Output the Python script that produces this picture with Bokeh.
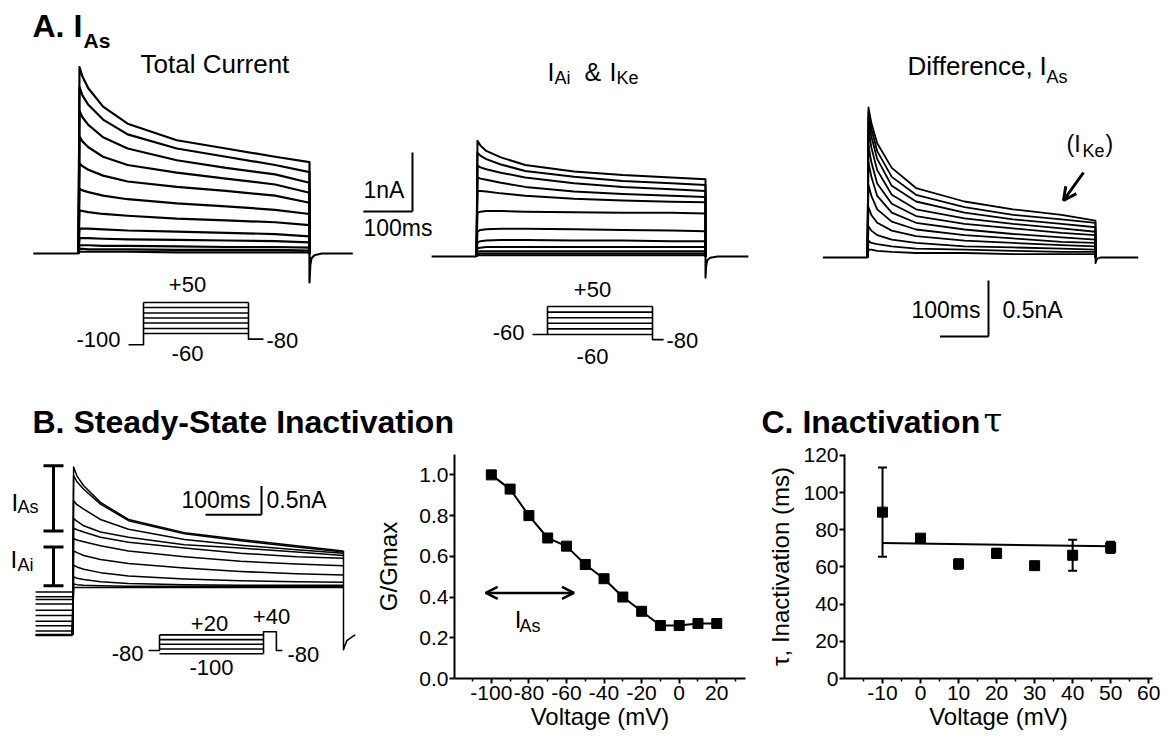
from bokeh.plotting import figure
from bokeh.models import (Range1d, Arrow, OpenHead, TeeHead, Whisker, ColumnDataSource,
                          FixedTicker, CustomJSTickFormatter)
from bokeh.layouts import column, row
from bokeh.embed import file_html
from bokeh.resources import INLINE
from bokeh.core.properties import value

SANS = "Liberation Sans"
SERIF = "DejaVu Serif"

# ---------------- data ----------------
# Panel A: traces (nA) sampled at times (ms) after the step onset
T_A = [2, 8, 20, 50, 100, 200, 300, 400, 470]
PULSE_A = 470
TOTAL = [
    [3.16, 3.00, 2.80, 2.49, 2.20, 1.92, 1.78, 1.64, 1.55],
    [2.82, 2.68, 2.52, 2.27, 2.02, 1.78, 1.64, 1.50, 1.38],
    [2.42, 2.31, 2.18, 1.97, 1.78, 1.58, 1.45, 1.34, 1.20],
    [1.98, 1.90, 1.80, 1.64, 1.50, 1.37, 1.27, 1.17, 1.03],
    [1.53, 1.48, 1.42, 1.32, 1.22, 1.13, 1.06, 0.98, 0.86],
    [1.10, 1.07, 1.04, 0.98, 0.92, 0.85, 0.80, 0.74, 0.67],
    [0.73, 0.72, 0.70, 0.67, 0.64, 0.59, 0.56, 0.53, 0.48],
    [0.42, 0.42, 0.42, 0.41, 0.39, 0.37, 0.35, 0.33, 0.29],
    [0.26, 0.26, 0.26, 0.25, 0.24, 0.23, 0.22, 0.21, 0.19],
    [0.14, 0.14, 0.14, 0.13, 0.13, 0.12, 0.11, 0.11, 0.10],
    [0.08, 0.08, 0.07, 0.07, 0.07, 0.06, 0.06, 0.06, 0.05],
    [0.03, 0.03, 0.03, 0.03, 0.03, 0.02, 0.02, 0.02, 0.02],
]
IAI_IKE = [
    [1.96, 1.88, 1.79, 1.68, 1.55, 1.44, 1.38, 1.34, 1.31],
    [1.76, 1.71, 1.65, 1.56, 1.45, 1.35, 1.28, 1.24, 1.21],
    [1.54, 1.51, 1.48, 1.42, 1.34, 1.24, 1.18, 1.14, 1.11],
    [1.34, 1.32, 1.30, 1.25, 1.18, 1.10, 1.06, 1.03, 1.01],
    [1.11, 1.11, 1.10, 1.07, 1.03, 0.98, 0.95, 0.93, 0.92],
    [0.74, 0.76, 0.77, 0.77, 0.76, 0.75, 0.74, 0.74, 0.73],
    [0.42, 0.45, 0.46, 0.47, 0.47, 0.46, 0.45, 0.44, 0.43],
    [0.24, 0.26, 0.27, 0.28, 0.28, 0.27, 0.27, 0.26, 0.26],
    [0.14, 0.15, 0.16, 0.16, 0.16, 0.16, 0.16, 0.16, 0.16],
    [0.08, 0.09, 0.09, 0.09, 0.09, 0.09, 0.09, 0.09, 0.09],
    [0.04, 0.05, 0.05, 0.05, 0.05, 0.05, 0.05, 0.05, 0.05],
    [0.02, 0.02, 0.02, 0.02, 0.02, 0.02, 0.02, 0.02, 0.02],
]
DIFF = [
    [1.34, 1.20, 1.02, 0.80, 0.62, 0.50, 0.43, 0.38, 0.33],
    [1.30, 1.15, 0.95, 0.72, 0.56, 0.45, 0.38, 0.34, 0.31],
    [1.25, 1.08, 0.88, 0.64, 0.50, 0.40, 0.34, 0.30, 0.27],
    [1.15, 0.98, 0.78, 0.56, 0.43, 0.35, 0.30, 0.26, 0.23],
    [1.00, 0.85, 0.66, 0.48, 0.37, 0.30, 0.26, 0.22, 0.20],
    [0.85, 0.72, 0.55, 0.40, 0.31, 0.25, 0.21, 0.18, 0.16],
    [0.65, 0.55, 0.43, 0.32, 0.25, 0.20, 0.17, 0.14, 0.13],
    [0.45, 0.38, 0.31, 0.24, 0.19, 0.15, 0.13, 0.11, 0.10],
    [0.28, 0.24, 0.20, 0.16, 0.13, 0.10, 0.09, 0.08, 0.07],
    [0.15, 0.13, 0.12, 0.10, 0.08, 0.07, 0.06, 0.05, 0.05],
    [0.07, 0.07, 0.06, 0.05, 0.04, 0.04, 0.03, 0.03, 0.03],
]
PRE_A = -92
POST_A = 558
TAIL_T = [0, 0, 1.5, 4, 10, 25, 88]           # ms after pulse end
TAIL_TOTAL = [0, -0.49, -0.20, -0.08, -0.03, 0, 0]
TAIL_IAI = [0, -0.36, -0.15, -0.06, -0.02, 0, 0]
TAIL_DIFF = [0, -0.05, -0.03, -0.01, 0, 0, 0]

# Voltage protocols (mV), schematic step levels as drawn
STEPS_A1 = [-60, -42, -23, -5, 13, 32, 50]
STEPS_A2 = [-60, -38, -16, 6, 28, 50]
STEPS_B = [-100, -70, -40, -10, 20]

# Panel B traces (nA) at times (ms) after the +40 step
T_B = [2, 8, 20, 50, 100, 200, 300, 400, 484]
PULSE_B = 484
B_TRACES = [
    [2.94, 2.78, 2.61, 2.32, 2.02, 1.79, 1.67, 1.56, 1.47],
    [2.79, 2.68, 2.55, 2.29, 2.00, 1.77, 1.65, 1.54, 1.45],
    [2.35, 2.28, 2.20, 2.02, 1.85, 1.67, 1.57, 1.49, 1.43],
    [2.04, 1.99, 1.91, 1.80, 1.71, 1.58, 1.52, 1.45, 1.39],
    [1.87, 1.84, 1.80, 1.71, 1.62, 1.52, 1.43, 1.37, 1.34],
    [1.69, 1.66, 1.63, 1.56, 1.47, 1.37, 1.29, 1.24, 1.21],
    [1.47, 1.44, 1.39, 1.32, 1.25, 1.17, 1.11, 1.07, 1.05],
    [1.22, 1.19, 1.15, 1.09, 1.03, 0.98, 0.95, 0.93, 0.92],
    [1.02, 0.99, 0.97, 0.93, 0.90, 0.88, 0.87, 0.87, 0.87],
    [0.89, 0.88, 0.87, 0.86, 0.85, 0.85, 0.85, 0.85, 0.85],
    [0.83, 0.83, 0.83, 0.83, 0.83, 0.83, 0.83, 0.83, 0.83],
]
B_PREPULSE = [0.75, 0.67, 0.62, 0.54, 0.43, 0.34, 0.24, 0.16, 0.07, 0.0]
PRE_B = -66
B_TAIL_T = [0, 0, 2, 6, 16, 21]
B_TAIL_I = [1.47, -0.26, -0.20, -0.10, -0.03, 0.0]
IAS_BAR = [1.82, 2.96]
IAI_BAR = [0.86, 1.54]

# Panel B right: steady-state inactivation
G_V = [-100, -90, -80, -70, -60, -50, -40, -30, -20, -10, 0, 10, 20]
G_REL = [1.00, 0.93, 0.80, 0.69, 0.65, 0.56, 0.49, 0.40, 0.33, 0.26, 0.26, 0.27, 0.27]
IAS_SPAN = [-103, -56]
IAS_Y = 0.42

# Panel C: inactivation tau
TAU_V = [-10, 0, 10, 20, 30, 40, 50]
TAU_MS = [89.5, 75.5, 61.6, 67.3, 60.7, 66.3, 70.5]
TAU_ERR = [24.0, 1.5, 2.5, 2.5, 1.5, 8.3, 3.0]
FIT_V = [-10, 50]
FIT_TAU = [72.9, 71.1]

TOP_H = 440          # height of the upper strip (panel A + titles)
BOT_H = 738 - TOP_H  # height of the lower row


# ---------------- helpers ----------------
def canvas_fig(w, h, x0, y0):
    p = figure(width=w, height=h, x_range=Range1d(x0, x0 + w), y_range=Range1d(y0 + h, y0),
               min_border=0, toolbar_location=None, tools="", output_backend="svg",
               x_axis_location=None, y_axis_location=None, outline_line_color=None,
               background_fill_color="white", border_fill_color="white")
    p.xgrid.visible = False
    p.ygrid.visible = False
    return p


class Panel:
    """Maps data units (ms, nA or mV) of one drawing to the page through an extra range."""
    def __init__(self, fig, name, px0, dx0, sx, py0, dy0, sy):
        self.f, self.px0, self.dx0, self.sx = fig, px0, dx0, sx
        self.py0, self.dy0, self.sy = py0, dy0, sy
        self.xr, self.yr = name + "_x", name + "_y"
        xr = dict(fig.extra_x_ranges)
        yr = dict(fig.extra_y_ranges)
        xr[self.xr] = Range1d(self.dx(fig.x_range.start), self.dx(fig.x_range.end))
        yr[self.yr] = Range1d(self.dy(fig.y_range.start), self.dy(fig.y_range.end))
        fig.extra_x_ranges = xr
        fig.extra_y_ranges = yr

    def dx(self, px):
        return self.dx0 + (px - self.px0) / self.sx

    def dy(self, py):
        return self.dy0 - (py - self.py0) / self.sy

    def lines(self, xs, ys, lw=1.5):
        self.f.multi_line(xs, ys, x_range_name=self.xr, y_range_name=self.yr,
                          line_color="black", line_width=lw, line_join="round")


def texts(fig, items):
    # items give the text baseline in page pixels; drawn centred on the cap height
    for it in items:
        x, y, s, size, bold, align = it[:6]
        font = it[6] if len(it) > 6 else SANS
        fig.text(x=[x], y=[y - 0.35 * size], text=[s], text_font=value(font),
                 text_font_size=f"{size}px",
                 text_font_style="bold" if bold else "normal", text_align=align,
                 text_baseline="middle", text_color="black")


def draw_traces(P, t, traces, pulse, pre, post, tail_t, tail_i, lw):
    xs = [[0] + t + [pulse] for _ in traces]
    ys = [[0] + tr + [0] for tr in traces]
    P.lines(xs, ys, lw)
    P.lines([[pre, 0], [pulse + d for d in tail_t[:-1]] + [post]],
            [[0, 0], tail_i], lw)


def draw_protocol(P, hold, pre, steps, pulse, ret_pts_t, ret_pts_v, lw=1.6):
    xs = [[pre, 0, 0]] + [[0, pulse] for _ in steps] + [ret_pts_t]
    ys = [[hold, hold, max(steps)]] + [[v, v] for v in steps] + [ret_pts_v]
    P.lines(xs, ys, lw)


def scale_bar(fig, P, x_px, y_px, ms, na, lw=2):
    fig.segment(x0=[x_px], y0=[P.dy(y_px)], x1=[x_px], y1=[P.dy(y_px) + na],
                y_range_name=P.yr, line_color="black", line_width=lw)
    fig.segment(x0=[P.dx(x_px) - ms], y0=[y_px], x1=[P.dx(x_px)], y1=[y_px],
                x_range_name=P.xr, line_color="black", line_width=lw)


# ---------------- top figure: panel A and titles ----------------
top = canvas_fig(1168, TOP_H, 0, 0)

PA = Panel(top, "tot", 78, 0, 231 / PULSE_A, 253, 0, 59)
PI = Panel(top, "iai", 476, 0, 229 / PULSE_A, 256, 0, 59)
PD = Panel(top, "dif", 867, 0, 228 / PULSE_A, 257, 0, 112)
Q1 = Panel(top, "q1", 143, 0, 105 / PULSE_A, 333, -60, 31 / 110)
Q2 = Panel(top, "q2", 547, 0, 105 / PULSE_A, 334, -60, 28 / 110)

draw_traces(PA, T_A, TOTAL, PULSE_A, PRE_A, POST_A, TAIL_T, TAIL_TOTAL, 2.2)
draw_traces(PI, T_A, IAI_IKE, PULSE_A, PRE_A, POST_A, TAIL_T, TAIL_IAI, 2.0)
draw_traces(PD, T_A, DIFF, PULSE_A, PRE_A, POST_A, TAIL_T, TAIL_DIFF, 1.8)

draw_protocol(Q1, -100, -67, STEPS_A1, PULSE_A, [PULSE_A, PULSE_A, PULSE_A + 67], [50, -80, -80])
draw_protocol(Q2, -60, -67, STEPS_A2, PULSE_A, [PULSE_A, PULSE_A, PULSE_A + 50], [50, -80, -80])

scale_bar(top, PA, 412, 211, 100, 1.0)
scale_bar(top, PD, 988, 336, 100, 0.5)

top.add_layout(Arrow(end=OpenHead(size=13, line_width=3, line_color="black"),
                     x_start=1083, y_start=172, x_end=1063, y_end=200,
                     line_width=3, line_color="black"))

texts(top, [
    (32, 37, "A. I", 32, True, "left"),
    (83, 47, "As", 21, True, "left"),
    (140, 73, "Total Current", 26, False, "left"),
    (547, 80, "I", 25, False, "left"),
    (554, 84, "Ai", 18, False, "left"),
    (584, 80, "&", 25, False, "left"),
    (609, 80, "I", 25, False, "left"),
    (616, 84, "Ke", 18, False, "left"),
    (907, 75, "Difference,", 26, False, "left"),
    (1039, 75, "I", 26, False, "left"),
    (1046, 83, "As", 18, False, "left"),
    (1066, 152, "(I", 23, False, "left"),
    (1082, 157, "Ke", 18, False, "left"),
    (1105, 152, ")", 23, False, "left"),
    (363, 198, "1nA", 23, False, "left"),
    (363, 236, "100ms", 23, False, "left"),
    (911, 318, "100ms", 23, False, "left"),
    (1002, 318, "0.5nA", 23, False, "left"),
    (187, 292, "+50", 22, False, "center"),
    (120, 347, "-100", 22, False, "right"),
    (266, 348, "-80", 22, False, "left"),
    (187, 361, "-60", 22, False, "center"),
    (592, 297, "+50", 22, False, "center"),
    (524, 340, "-60", 22, False, "right"),
    (666, 348, "-80", 22, False, "left"),
    (592, 364, "-60", 22, False, "center"),
    (32, 433, "B. Steady-State Inactivation", 32, True, "left"),
    (761, 433, "C. Inactivation", 32, True, "left"),
    (983, 431, "τ", 34, False, "left", SERIF),
])

# ---------------- bottom-left: panel B traces ----------------
bfig = canvas_fig(372, BOT_H, 0, TOP_H)
PB = Panel(bfig, "b", 72, 0, 271 / PULSE_B, 680, 0, 76)
QB = Panel(bfig, "qb", 159, 0, 104 / PULSE_B, 705, -100, 25 / 120)

bx = [[0] + T_B + [PULSE_B] for _ in B_TRACES]
by = [[0] + tr + [tr[-1]] for tr in B_TRACES]
PB.lines(bx, by, 1.5)
PB.lines([[PRE_B, 0] for _ in B_PREPULSE], [[v, v] for v in B_PREPULSE], 1.5)
PB.lines([[PRE_B, 0]], [[0, 0]], 2.5)
PB.lines([[PULSE_B + d for d in B_TAIL_T]], [B_TAIL_I], 1.5)

for lo, hi in (IAS_BAR, IAI_BAR):
    bfig.segment(x0=[53], y0=[lo], x1=[53], y1=[hi], y_range_name=PB.yr,
                 line_color="black", line_width=3)
    bfig.segment(x0=[43, 43], y0=[lo, hi], x1=[63, 63], y1=[lo, hi], y_range_name=PB.yr,
                 line_color="black", line_width=3)

scale_bar(bfig, PB, 261, 520, 100, 0.5)
draw_protocol(QB, -80, -51, STEPS_B, PULSE_B,
              [PULSE_B, PULSE_B, PULSE_B + 60, PULSE_B + 60, PULSE_B + 88],
              [-100, 40, 40, -80, -80])

texts(bfig, [
    (11, 512, "I", 24, False, "left"),
    (17, 516, "As", 18, False, "left"),
    (10, 588, "I", 24, False, "left"),
    (17, 593, "Ai", 18, False, "left"),
    (181, 508, "100ms", 23, False, "left"),
    (266, 508, "0.5nA", 23, False, "left"),
    (209, 672, "+20", 22, False, "center"),
    (271, 663, "+40", 22, False, "center"),
    (143, 712, "-80", 22, False, "right"),
    (287, 714, "-80", 22, False, "left"),
    (211, 731, "-100", 22, False, "center"),
])


# ---------------- charts ----------------
def style_axes(p, tick_px, lab_px):
    for ax in (p.xaxis[0], p.yaxis[0]):
        ax.axis_line_width = 2
        ax.axis_line_color = "black"
        ax.major_tick_line_width = 2
        ax.major_tick_line_color = "black"
        ax.major_tick_in = 0
        ax.major_tick_out = 5
        ax.minor_tick_line_width = 1.5
        ax.minor_tick_line_color = "black"
        ax.minor_tick_in = 0
        ax.minor_tick_out = 3
        ax.major_label_text_font = SANS
        ax.major_label_text_font_size = f"{tick_px}px"
        ax.major_label_text_color = "black"
        ax.axis_label_text_font = SANS
        ax.axis_label_text_font_size = f"{lab_px}px"
        ax.axis_label_text_font_style = "normal"
        ax.axis_label_text_color = "black"
    p.xaxis.major_label_standoff = 2
    p.xaxis.axis_label_standoff = 0
    p.yaxis.major_label_standoff = 1


def chart(w, x_rng, y_rng, left, right, frame_top):
    p = figure(width=w, height=BOT_H, x_range=Range1d(*x_rng), y_range=Range1d(*y_rng),
               min_border_left=left, min_border_right=right,
               min_border_top=frame_top - TOP_H,
               min_border_bottom=60, toolbar_location=None, tools="", output_backend="svg",
               outline_line_color=None, background_fill_color="white",
               border_fill_color="white")
    p.xgrid.visible = False
    p.ygrid.visible = False
    return p


gfig = chart(388, (-119.6, 35.3), (0, 1.1), 80, 15, 454)
gfig.xaxis.ticker = FixedTicker(ticks=[-100, -80, -60, -40, -20, 0, 20],
                                minor_ticks=[-110, -90, -70, -50, -30, -10, 10, 30])
gfig.xaxis.formatter = CustomJSTickFormatter(code="return tick.toFixed(0);")
gfig.yaxis.ticker = FixedTicker(ticks=[0, 0.2, 0.4, 0.6, 0.8, 1.0])
gfig.yaxis.formatter = CustomJSTickFormatter(code="return tick.toFixed(1);")
gfig.xaxis.axis_label = "Voltage (mV)"
gfig.yaxis.axis_label = "G/Gmax"
style_axes(gfig, 21, 24)
gfig.yaxis.axis_label_standoff = 14
gfig.line(G_V, G_REL, line_color="black", line_width=2)
gfig.scatter(G_V, G_REL, marker="square", size=10, color="black")
gfig.add_layout(Arrow(start=OpenHead(size=12, line_width=2.5, line_color="black"),
                      end=OpenHead(size=12, line_width=2.5, line_color="black"),
                      x_start=IAS_SPAN[0], x_end=IAS_SPAN[1], y_start=IAS_Y, y_end=IAS_Y,
                      line_width=2.5, line_color="black"))
gfig.text(x=[-87.5], y=[0.291], text=["I"], text_font=value(SANS), text_font_size="24px",
          text_baseline="middle", text_color="black")
gfig.text(x=[-85.0], y=[0.256], text=["As"], text_font=value(SANS), text_font_size="18px",
          text_baseline="middle", text_color="black")

cfig = chart(408, (-20, 61), (0, 120.5), 84, 16, 453)
cfig.xaxis.ticker = FixedTicker(ticks=[-10, 0, 10, 20, 30, 40, 50, 60],
                                minor_ticks=[-15, -5, 5, 15, 25, 35, 45, 55])
cfig.xaxis.formatter = CustomJSTickFormatter(code="return tick.toFixed(0);")
cfig.yaxis.ticker = FixedTicker(ticks=[0, 20, 40, 60, 80, 100, 120])
cfig.yaxis.formatter = CustomJSTickFormatter(code="return tick.toFixed(0);")
cfig.xaxis.axis_label = "Voltage (mV)"
cfig.yaxis.axis_label = "τ, Inactivation (ms)"
style_axes(cfig, 21, 24)
cfig.yaxis.axis_label_standoff = 6
cfig.line(FIT_V, FIT_TAU, line_color="black", line_width=2)
src = ColumnDataSource(dict(v=TAU_V, t=TAU_MS,
                            hi=[m + e for m, e in zip(TAU_MS, TAU_ERR)],
                            lo=[m - e for m, e in zip(TAU_MS, TAU_ERR)]))
cfig.add_layout(Whisker(source=src, base="v", upper="hi", lower="lo", dimension="height",
                        line_width=2, line_color="black",
                        upper_head=TeeHead(size=9, line_width=2, line_color="black"),
                        lower_head=TeeHead(size=9, line_width=2, line_color="black")))
cfig.scatter("v", "t", source=src, marker="square", size=10, color="black")

layout = column(top, row(bfig, gfig, cfig, spacing=0), spacing=0)
open("out.html", "w").write(file_html(layout, INLINE, title="IAs"))
